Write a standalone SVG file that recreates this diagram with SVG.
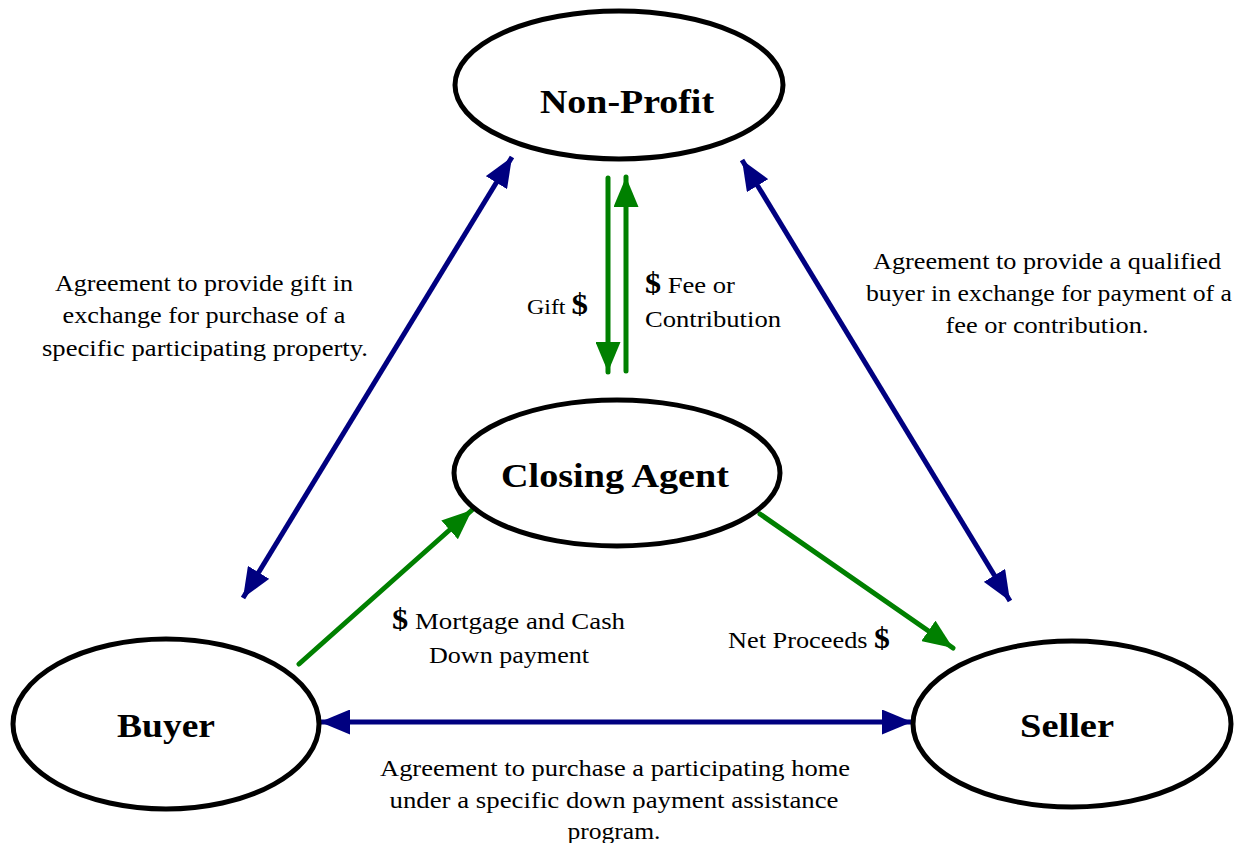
<svg xmlns="http://www.w3.org/2000/svg" width="1246" height="843" viewBox="0 0 1246 843">
<defs>
<style>
.node{fill:#fff;stroke:#000;stroke-width:5}
.nl{font-family:"Liberation Serif",serif;font-weight:bold;font-size:34px;text-anchor:middle;fill:#000}
.t{font-family:"Liberation Serif",serif;font-size:24px;fill:#000}
.c{text-anchor:middle}
.d{font-weight:bold;font-size:29px}
.blue{stroke:#000080;stroke-width:5;fill:none}
.green{stroke:#008000;stroke-width:5;fill:none;stroke-linecap:round}
</style>
<marker id="ab" viewBox="0 0 12 10" refX="12" refY="5" markerWidth="6" markerHeight="5" orient="auto-start-reverse" markerUnits="strokeWidth"><path d="M0,0 L12,5 L0,10 z" fill="#000080"/></marker>
<marker id="ag" viewBox="0 0 12 10" refX="12" refY="5" markerWidth="6" markerHeight="5" orient="auto" markerUnits="strokeWidth"><path d="M0,0 L12,5 L0,10 z" fill="#008000"/></marker>
</defs>
<rect width="1246" height="843" fill="#fff"/>
<g id="connectors">
<line class="blue" x1="243" y1="598" x2="512" y2="157" marker-start="url(#ab)" marker-end="url(#ab)"/>
<line class="blue" x1="742" y1="160" x2="1010" y2="601" marker-start="url(#ab)" marker-end="url(#ab)"/>
<line class="blue" x1="320" y1="722" x2="912" y2="722" marker-start="url(#ab)" marker-end="url(#ab)"/>
<line class="green" x1="608" y1="178" x2="608" y2="372" marker-end="url(#ag)"/>
<line class="green" x1="626" y1="371" x2="626" y2="177" marker-end="url(#ag)"/>
<line class="green" x1="299" y1="664" x2="472" y2="510" marker-end="url(#ag)"/>
<line class="green" x1="760" y1="514" x2="953" y2="648" marker-end="url(#ag)"/>
</g>
<g id="nonprofit"><ellipse class="node" cx="619" cy="85" rx="164" ry="74"/><text class="nl" x="627" y="113" textLength="174" lengthAdjust="spacingAndGlyphs">Non-Profit</text></g>
<g id="closing"><ellipse class="node" cx="617" cy="473" rx="163" ry="73"/><text class="nl" x="615" y="487" textLength="228" lengthAdjust="spacingAndGlyphs">Closing Agent</text></g>
<g id="buyer"><ellipse class="node" cx="166" cy="724" rx="153" ry="85"/><text class="nl" x="166" y="737" textLength="98" lengthAdjust="spacingAndGlyphs">Buyer</text></g>
<g id="seller"><ellipse class="node" cx="1072" cy="724" rx="159" ry="83"/><text class="nl" x="1067" y="737" textLength="94" lengthAdjust="spacingAndGlyphs">Seller</text></g>
<g id="labels">
<text class="t c" x="204" y="291" textLength="298" lengthAdjust="spacingAndGlyphs">Agreement to provide gift in</text>
<text class="t c" x="204" y="323" textLength="283" lengthAdjust="spacingAndGlyphs">exchange for purchase of a</text>
<text class="t c" x="205" y="356" textLength="326" lengthAdjust="spacingAndGlyphs">specific participating property.</text>
<text class="t c" x="1047" y="269" textLength="348" lengthAdjust="spacingAndGlyphs">Agreement to provide a qualified</text>
<text class="t c" x="1049" y="301" textLength="366" lengthAdjust="spacingAndGlyphs">buyer in exchange for payment of a</text>
<text class="t c" x="1047" y="333" textLength="203" lengthAdjust="spacingAndGlyphs">fee or contribution.</text>
<text class="t" x="527" y="314" style="font-size:21px" textLength="61" lengthAdjust="spacingAndGlyphs">Gift <tspan class="d">$</tspan></text>
<text class="t" x="645" y="293" textLength="90" lengthAdjust="spacingAndGlyphs"><tspan class="d">$</tspan> Fee or</text>
<text class="t" x="645" y="327" textLength="136" lengthAdjust="spacingAndGlyphs">Contribution</text>
<text class="t" x="392" y="629" textLength="233" lengthAdjust="spacingAndGlyphs"><tspan class="d">$</tspan> Mortgage and Cash</text>
<text class="t c" x="509" y="663" textLength="160" lengthAdjust="spacingAndGlyphs">Down payment</text>
<text class="t" x="728" y="648" textLength="162" lengthAdjust="spacingAndGlyphs">Net Proceeds <tspan class="d">$</tspan></text>
<text class="t c" x="615" y="776" textLength="470" lengthAdjust="spacingAndGlyphs">Agreement to purchase a participating home</text>
<text class="t c" x="614" y="808" textLength="449" lengthAdjust="spacingAndGlyphs">under a specific down payment assistance</text>
<text class="t c" x="614" y="839" textLength="93" lengthAdjust="spacingAndGlyphs">program.</text>
</g>
</svg>
